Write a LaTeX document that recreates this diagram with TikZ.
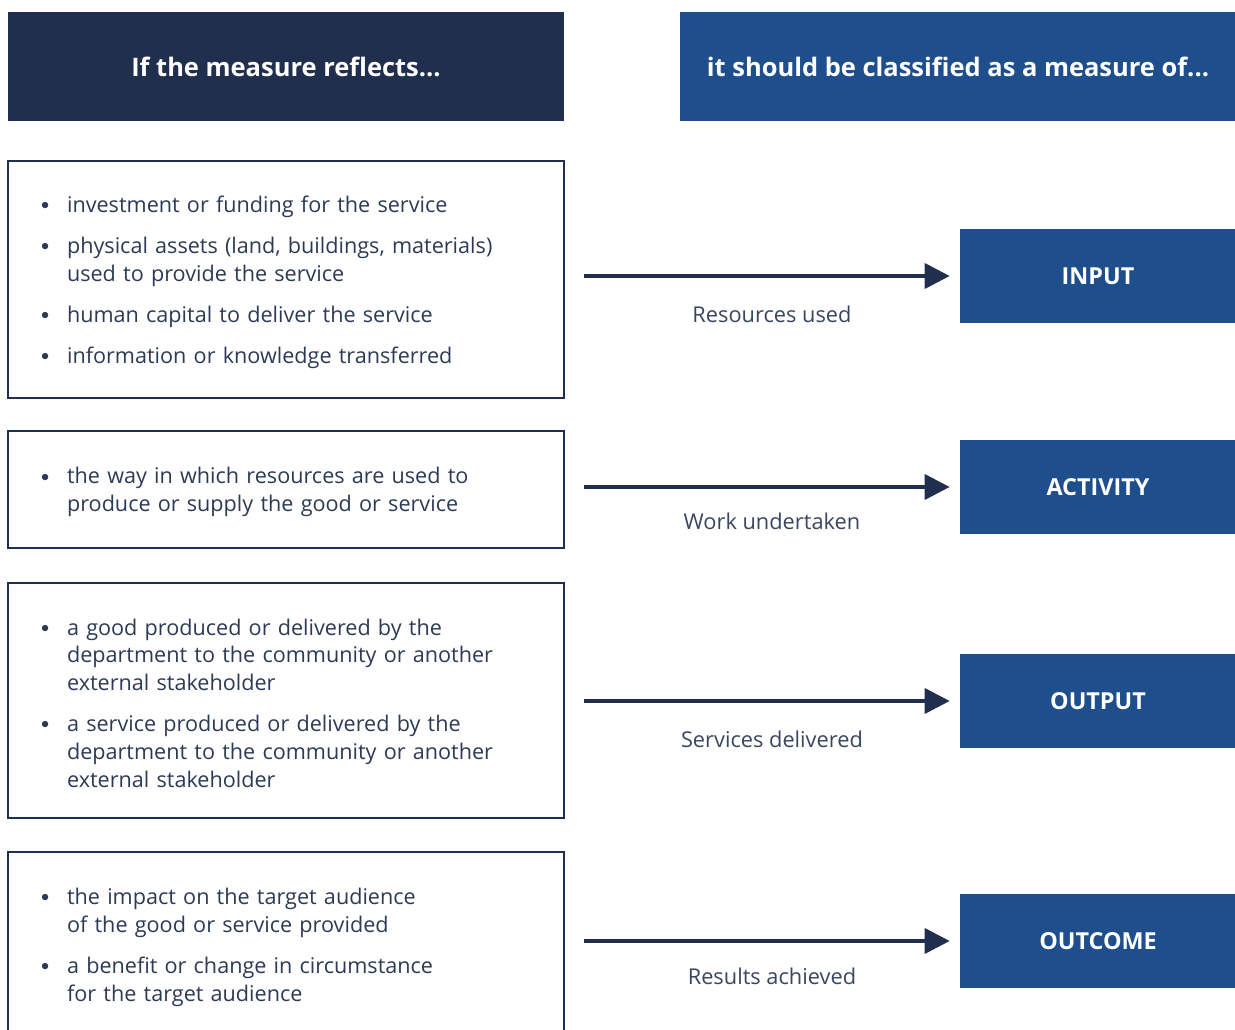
\documentclass[tikz,border=0pt]{standalone}
\usepackage{fontspec}
\setmainfont{Open Sans}
\usepackage{enumitem}
\usetikzlibrary{arrows.meta}
\definecolor{navy}{HTML}{212F4E}
\definecolor{midblue}{HTML}{1F4E8C}
\definecolor{bodytext}{HTML}{2D3A55}
\definecolor{labeltext}{HTML}{3A4660}
\setlist[itemize]{nosep,itemsep=0.26cm,leftmargin=0.52cm,labelwidth=0.52cm,labelsep=0pt,align=left,label={\raisebox{0.25ex}{\small$\bullet$}}}

\begin{document}
\begin{tikzpicture}[x=0.02cm,y=-0.02cm,>={Triangle[length=0.5cm,width=0.5cm]},
	head/.style={rectangle,text=white,font=\bfseries\fontsize{14.5}{17}\selectfont,minimum height=2.18cm,minimum width=11.12cm},
	reflect/.style={draw=navy,line width=1.5pt,rectangle,minimum width=11.12cm,text width=9.8cm,inner xsep=0.66cm,inner ysep=0pt,text=bodytext,font=\fontsize{12.3}{15.9}\selectfont,execute at end node={\vspace*{0.12cm}}},
	kind/.style={fill=midblue,rectangle,minimum width=5.52cm,minimum height=1.9cm,text=white,font=\bfseries\fontsize{13.3}{16}\selectfont},
	arr/.style={->,draw=navy,line width=2.2pt,shorten >=0.2cm},
	lbl/.style={text=labeltext,font=\fontsize{12.4}{15}\selectfont}]

	\useasboundingbox (0,0) rectangle (1235,1030);

	% fejlecek
	\node[head,fill=navy] (hleft) at (286,66.5) {If the measure reflects...};
	\node[head,fill=midblue] (hright) at (958,66.5) {it should be classified as a measure of...};

	% bal oldali dobozok
	\node[reflect,minimum height=4.74cm] (refl1) at (286,279.5) {\begin{itemize}
		\item investment or funding for the service
		\item physical assets (land, buildings, materials)\newline used to provide the service
		\item human capital to deliver the service
		\item information or knowledge transferred
	\end{itemize}};
	\node[reflect,minimum height=2.34cm] (refl2) at (286,489.5) {\begin{itemize}
		\item the way in which resources are used to\newline produce or supply the good or service
	\end{itemize}};
	\node[reflect,minimum height=4.70cm] (refl3) at (286,700.5) {\begin{itemize}
		\item a good produced or delivered by the\newline department to the community or another\newline external stakeholder
		\item a service produced or delivered by the\newline department to the community or another\newline external stakeholder
	\end{itemize}};
	\node[reflect,minimum height=3.70cm] (refl4) at (286,944.5) {\begin{itemize}
		\item the impact on the target audience\newline of the good or service provided
		\item a benefit or change in circumstance\newline for the target audience
	\end{itemize}};

	% jobb oldali dobozok
	\node[kind] (inp) at (1098,276) {INPUT};
	\node[kind] (act) at (1098,487) {ACTIVITY};
	\node[kind] (outp) at (1098,701) {OUTPUT};
	\node[kind] (outc) at (1098,941) {OUTCOME};

	% nyilak
	\draw[arr] ([xshift=0.38cm]refl1.east |- inp.west) -- (inp.west) node[lbl,midway,yshift=-0.76cm]{Resources used};
	\draw[arr] ([xshift=0.38cm]refl2.east |- act.west) -- (act.west) node[lbl,midway,yshift=-0.68cm]{Work undertaken};
	\draw[arr] ([xshift=0.38cm]refl3.east |- outp.west) -- (outp.west) node[lbl,midway,yshift=-0.76cm]{Services delivered};
	\draw[arr] ([xshift=0.38cm]refl4.east |- outc.west) -- (outc.west) node[lbl,midway,yshift=-0.70cm]{Results achieved};

\end{tikzpicture}
\end{document}
